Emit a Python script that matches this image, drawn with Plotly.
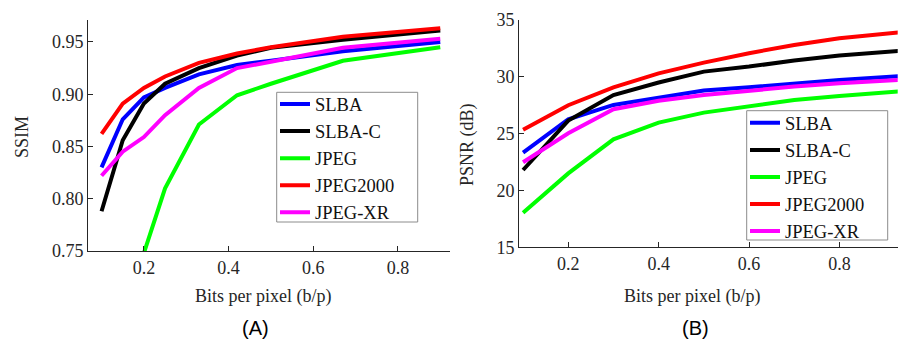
import plotly.graph_objects as go

names = ["SLBA", "SLBA-C", "JPEG", "JPEG2000", "JPEG-XR"]
colors = ["#0000FF", "#000000", "#00FF00", "#FF0000", "#FF00FF"]

# (A) SSIM vs bits per pixel
bpp_a = [0.1, 0.15, 0.2, 0.25, 0.33, 0.42, 0.5, 0.67, 0.9]
ssim_slba = [0.830, 0.876, 0.897, 0.906, 0.919, 0.928, 0.932, 0.941, 0.950]
ssim_slbac = [0.788, 0.856, 0.891, 0.910, 0.925, 0.937, 0.9445, 0.952, 0.961]
ssim_jpeg = [None, None, 0.748, 0.810, 0.871, 0.899, 0.910, 0.932, 0.945]
ssim_j2k = [0.862, 0.891, 0.906, 0.917, 0.930, 0.939, 0.945, 0.955, 0.963]
ssim_jxr = [0.822, 0.845, 0.859, 0.880, 0.906, 0.925, 0.931, 0.9445, 0.953]

# (B) PSNR vs bits per pixel
bpp_b = [0.1, 0.2, 0.3, 0.4, 0.5, 0.6, 0.7, 0.8, 0.93]
psnr_slba = [23.33, 26.27, 27.53, 28.20, 28.79, 29.08, 29.43, 29.73, 30.05]
psnr_slbac = [21.80, 26.15, 28.40, 29.50, 30.46, 30.90, 31.43, 31.87, 32.28]
psnr_jpeg = [18.05, 21.50, 24.50, 25.97, 26.85, 27.44, 27.97, 28.32, 28.70]
psnr_j2k = [25.35, 27.50, 29.08, 30.30, 31.25, 32.08, 32.80, 33.40, 33.90]
psnr_jxr = [22.48, 25.04, 27.15, 27.90, 28.40, 28.79, 29.14, 29.43, 29.72]

ssim_series = [ssim_slba, ssim_slbac, ssim_jpeg, ssim_j2k, ssim_jxr]
psnr_series = [psnr_slba, psnr_slbac, psnr_jpeg, psnr_j2k, psnr_jxr]

W, H = 901, 339
serif = "Liberation Serif, Times New Roman, serif"
txt = "#262626"

fig = go.Figure()
for n, c, ys in zip(names, colors, ssim_series):
    fig.add_trace(go.Scatter(x=bpp_a, y=ys, mode="lines", name=n,
                             line=dict(color=c, width=4), xaxis="x", yaxis="y",
                             legend="legend", legendgroup="a" + n))
for n, c, ys in zip(names, colors, psnr_series):
    fig.add_trace(go.Scatter(x=bpp_b, y=ys, mode="lines", name=n,
                             line=dict(color=c, width=4), xaxis="x2", yaxis="y2",
                             legend="legend2", legendgroup="b" + n))

axis_common = dict(showline=True, linecolor="#262626", linewidth=1, ticks="inside",
                   ticklen=5, tickcolor="#262626", showgrid=False, zeroline=False,
                   automargin=False,
                   tickfont=dict(family=serif, size=18, color=txt), mirror=False)

legend_common = dict(xanchor="left", yanchor="top",
                     bgcolor="rgba(0,0,0,0)", borderwidth=0,
                     font=dict(family=serif, size=18.5, color="#111111"),
                     traceorder="grouped", tracegroupgap=0, itemwidth=30)

fig.update_layout(
    width=W, height=H, margin=dict(l=0, r=0, t=0, b=0, autoexpand=False),
    plot_bgcolor="white", paper_bgcolor="white",
    xaxis=dict(domain=[88 / W, 450 / W], range=[0.068, 0.923],
               tickvals=[0.2, 0.4, 0.6, 0.8], ticktext=["0.2", "0.4", "0.6", "0.8"],
               anchor="y", **axis_common),
    yaxis=dict(domain=[1 - 251 / H, 1 - 20 / H], range=[0.75, 0.971],
               tickvals=[0.75, 0.80, 0.85, 0.90, 0.95],
               ticktext=["0.75", "0.80", "0.85", "0.90", "0.95"],
               anchor="x", **axis_common),
    xaxis2=dict(domain=[519 / W, 897.7 / W], range=[0.091, 0.929],
                tickvals=[0.2, 0.4, 0.6, 0.8], ticktext=["0.2", "0.4", "0.6", "0.8"],
                anchor="y2", **axis_common),
    yaxis2=dict(domain=[1 - 247.3 / H, 1 - 20 / H], range=[15, 35],
                tickvals=[15, 20, 25, 30, 35], ticktext=["15", "20", "25", "30", "35"],
                anchor="x2", **axis_common),
    legend=dict(x=275 / W, y=1 - 85.5 / H, **legend_common),
    legend2=dict(x=745 / W, y=1 - 104.3 / H, **legend_common),
    showlegend=True,
)

# legend frames
for x0, y0, x1, y1 in [(276.7, 92.3, 417.7, 222.0), (746.7, 110.7, 887.7, 240.0)]:
    fig.add_shape(type="rect", xref="paper", yref="paper",
                  x0=x0 / W, x1=x1 / W, y0=1 - y1 / H, y1=1 - y0 / H,
                  line=dict(color="#8c8c8c", width=1), fillcolor="white", layer="below")

annots = [
    dict(text="SSIM", x=22 / W, y=1 - 137 / H, textangle=-90,
         font=dict(family=serif, size=18, color=txt)),
    dict(text="PSNR (dB)", x=468 / W, y=1 - 145 / H, textangle=-90,
         font=dict(family=serif, size=18, color=txt)),
    dict(text="Bits per pixel (b/p)", x=263 / W, y=1 - 296 / H,
         font=dict(family=serif, size=18, color=txt)),
    dict(text="Bits per pixel (b/p)", x=692 / W, y=1 - 296 / H,
         font=dict(family=serif, size=18, color=txt)),
    dict(text="(A)", x=255 / W, y=1 - 328 / H,
         font=dict(family="Liberation Sans, Arial, sans-serif", size=20, color="#000000")),
    dict(text="(B)", x=695.7 / W, y=1 - 328 / H,
         font=dict(family="Liberation Sans, Arial, sans-serif", size=20, color="#000000")),
]
for a in annots:
    fig.add_annotation(xref="paper", yref="paper", showarrow=False,
                       xanchor="center", yanchor="middle", **a)

fig.write_html("out.html", config={"displayModeBar": False},
               post_script="document.body.style.margin='0';document.body.style.overflow='hidden';")
